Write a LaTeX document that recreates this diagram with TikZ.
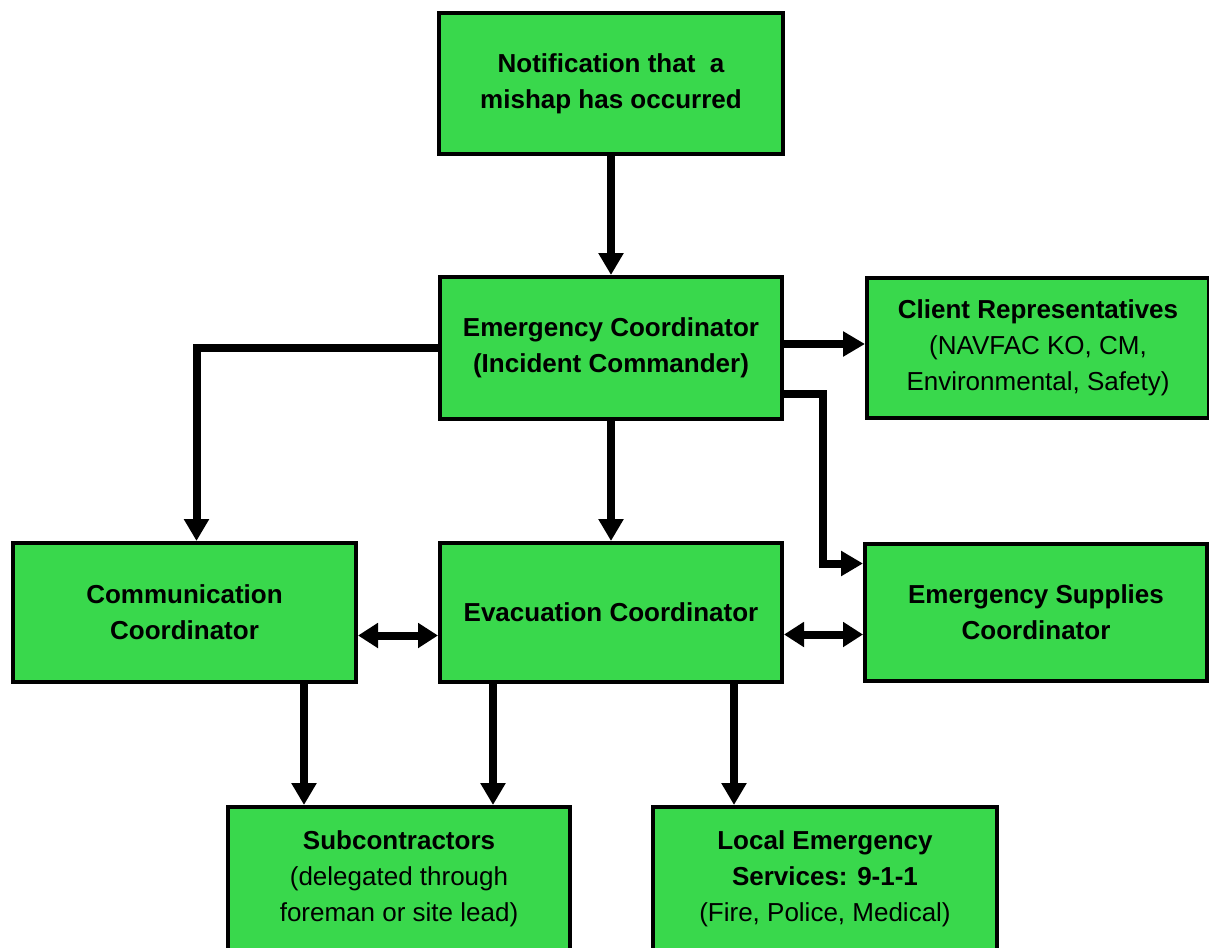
\documentclass[tikz,border=0pt]{standalone}
\usepackage{fontspec}
\setmainfont{Liberation Sans}
\usetikzlibrary{arrows.meta}
\definecolor{boxgreen}{RGB}{57,216,76}
\begin{document}
\begin{tikzpicture}[x=1pt,y=-1pt,
  box/.style={draw=black, line width=4pt, fill=boxgreen, inner sep=0pt, align=center,
    font=\fontsize{26}{36}\selectfont},
  arr/.style={line width=8pt, line join=miter, -{Triangle[width=24pt,length=22pt]}},
  darr/.style={line width=8pt, {Triangle[width=24pt,length=20pt]}-{Triangle[width=24pt,length=20pt]}}]
\useasboundingbox (0,0) rectangle (1209,947);
\fill[white] (0,0) rectangle (1209,947);

\node[box, minimum width=344pt, minimum height=141pt] (notif) at (611,83.5)
  {\bfseries Notification that\ \ a\\\bfseries mishap has occurred};
\node[box, minimum width=342pt, minimum height=142pt] (ec) at (611,348)
  {\bfseries Emergency Coordinator\\\bfseries (Incident Commander)};
\node[box, minimum width=342pt, minimum height=140pt] (client) at (1038,348)
  {{\bfseries Client Representatives}\\(NAVFAC KO, CM,\\Environmental, Safety)};
\node[box, minimum width=343pt, minimum height=139pt] (comm) at (184.5,612.5)
  {\bfseries Communication\\\bfseries Coordinator};
\node[box, minimum width=342pt, minimum height=139pt] (evac) at (611,612.5)
  {\bfseries Evacuation Coordinator};
\node[box, minimum width=342pt, minimum height=137pt] (es) at (1036,612.5)
  {\bfseries Emergency Supplies\\\bfseries Coordinator};
\node[box, minimum width=342pt, minimum height=144pt] (sub) at (399,879)
  {{\bfseries Subcontractors}\\(delegated through\\foreman or site lead)};
\node[box, minimum width=344pt, minimum height=144pt] (local) at (825,879)
  {{\bfseries Local Emergency}\\{\bfseries Services: 9-1-1}\\(Fire, Police, Medical)};

\draw[arr] (notif.south) -- (ec.north);
\draw[arr] (ec.south) -- (evac.north);
\draw[arr] (ec.west) -| ([xshift=12pt]comm.north);
\draw[arr] ([yshift=4pt]ec.east) -- ([yshift=4pt]client.west);
\draw[arr] ([yshift=-46pt]ec.east) -| ([xshift=-40pt,yshift=49pt]es.west) -- ([yshift=49pt]es.west);
\draw[darr] ([yshift=-23pt]comm.east) -- ([yshift=-23pt]evac.west);
\draw[darr] ([yshift=-22pt]evac.east) -- ([yshift=-22pt]es.west);
\draw[arr] ([xshift=119.5pt]comm.south) -- ([xshift=119.5pt]comm.south |- sub.north);
\draw[arr] ([xshift=-118pt]evac.south) -- ([xshift=-118pt]evac.south |- sub.north);
\draw[arr] ([xshift=123pt]evac.south) -- ([xshift=123pt]evac.south |- local.north);
\end{tikzpicture}
\end{document}
